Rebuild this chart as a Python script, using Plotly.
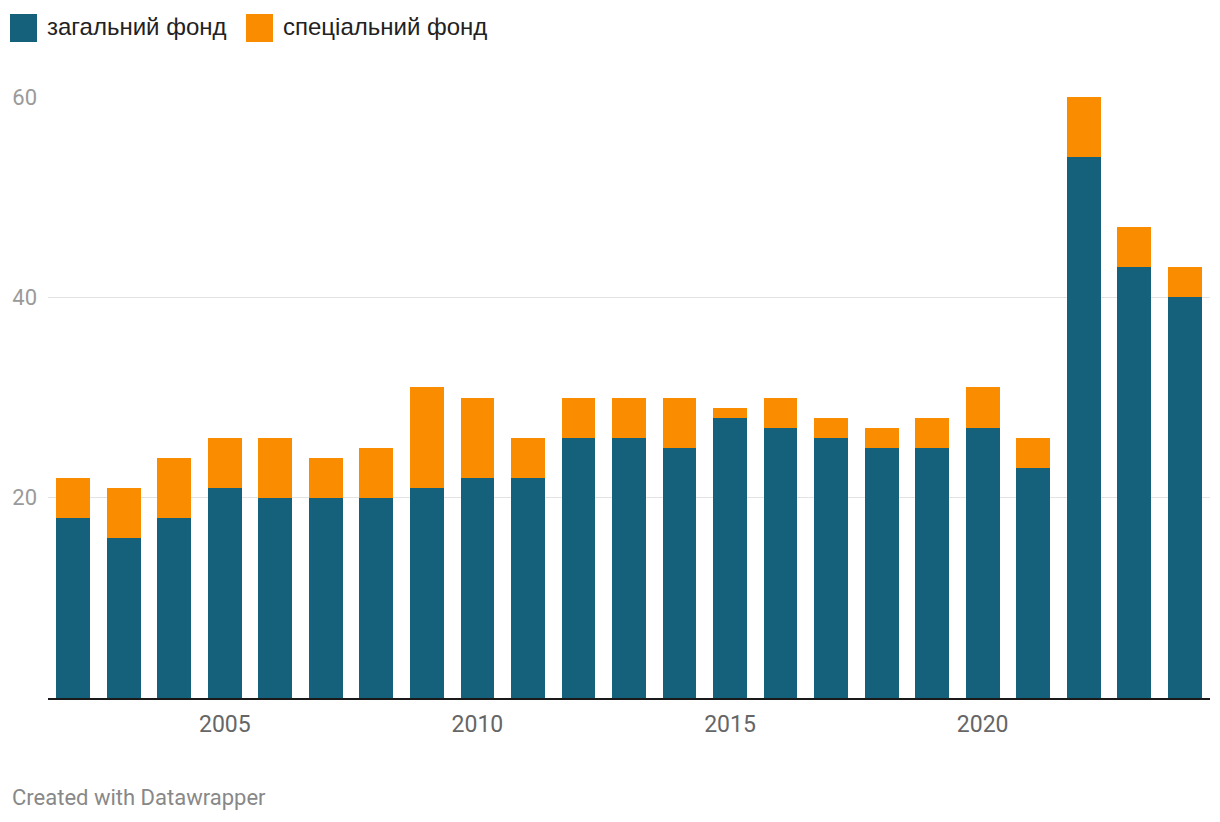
import plotly.graph_objects as go

years = list(range(2002, 2025))
general = [18, 16, 18, 21, 20, 20, 20, 21, 22, 22, 26, 26, 25, 28, 27, 26, 25, 25, 27, 23, 54, 43, 40]
special = [4, 5, 6, 5, 6, 4, 5, 10, 8, 4, 4, 4, 5, 1, 3, 2, 2, 3, 4, 3, 6, 4, 3]
series_names = ["загальний фонд", "спеціальний фонд"]
colors = ["#15607a", "#fa8c00"]
x_ticks = [2005, 2010, 2015, 2020]
y_ticks = [20, 40, 60]

W, H = 1220, 822
ML, MR, MT, MB = 48, 10, 97, 124
PW, PH = W - ML - MR, H - MT - MB

fig = go.Figure()
for name, vals, c in zip(series_names, [general, special], colors):
    fig.add_trace(go.Bar(x=years, y=vals, name=name, marker=dict(color=c, line=dict(width=0)),
                         showlegend=False))

fig.update_layout(
    barmode="stack", bargap=0.33,
    width=W, height=H,
    margin=dict(l=ML, r=MR, t=MT, b=MB, pad=0),
    plot_bgcolor="white", paper_bgcolor="white",
    font=dict(family="Roboto", color="#333"),
    xaxis=dict(range=[2001.5, 2024.5], tickvals=x_ticks, ticks="", showgrid=False,
               showline=True, linecolor="#1a1a1a", linewidth=2,
               tickfont=dict(size=23, color="#666"), zeroline=False,
               ticklabelstandoff=4),
    yaxis=dict(range=[0, 60], tickvals=y_ticks, ticks="", showgrid=True, gridcolor="#e3e3e3",
               gridwidth=1, zeroline=False, tickfont=dict(size=22, color="#9a9a9a"),
               ticklabelstandoff=10),
)

def fx(px):
    return (px - ML) / PW

def fy(py):
    return (H - MB - py) / PH

leg = [(10, 37, 45), (246, 273, 281)]
for (x0, x1, tx), name, c in zip(leg, series_names, colors):
    fig.add_shape(type="rect", xref="paper", yref="paper",
                  x0=fx(x0), x1=fx(x1), y0=fy(42), y1=fy(14),
                  fillcolor=c, line=dict(width=0))
    fig.add_annotation(xref="paper", yref="paper", x=fx(tx), y=fy(26), text=name,
                       showarrow=False, xanchor="left", yanchor="middle",
                       font=dict(family="Liberation Sans", size=24, color="#222"))

fig.add_annotation(xref="paper", yref="paper", x=fx(10), y=fy(797),
                   text="Created with Datawrapper", showarrow=False,
                   xanchor="left", yanchor="middle", font=dict(size=22, color="#888"))

fig.write_html("out.html", config={"displayModeBar": False},
               post_script="document.body.style.margin='0';")
